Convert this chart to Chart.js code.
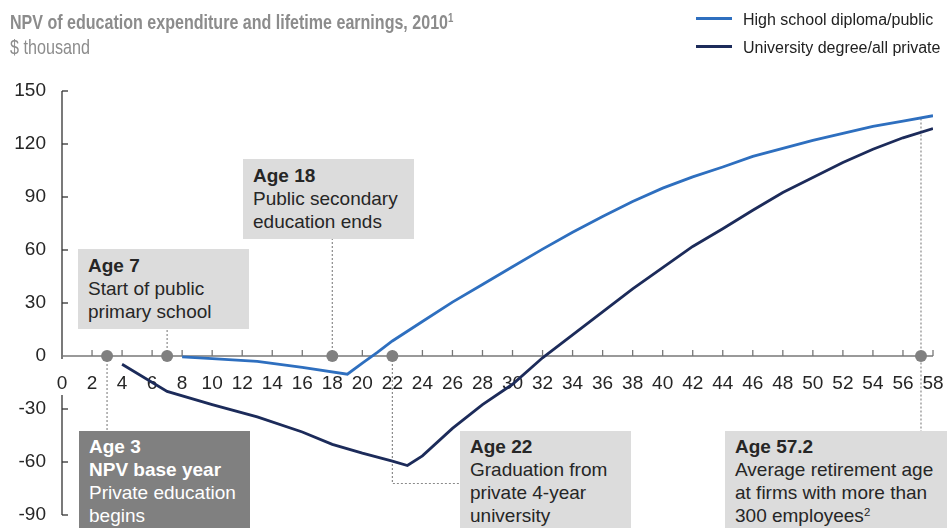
<!DOCTYPE html>
<html>
<head>
<meta charset="utf-8">
<script src="https://cdn.jsdelivr.net/npm/chart.js@4.4.0/dist/chart.umd.min.js"></script>
<style>
  html, body { margin: 0; padding: 0; background: #fff; }
  #wrap { position: relative; width: 947px; height: 528px; overflow: hidden; font-family: "Liberation Sans", Arial, sans-serif; }
  #chart { position: absolute; left: 0; top: 0; }
  .head { position: absolute; left: 10px; white-space: nowrap; transform-origin: left top; color: #8c8c8c; }
  #title { top: 11px; font-size: 20px; font-weight: bold; }
  #unit { top: 35px; font-size: 21px; }
  sup { font-size: 0.6em; line-height: 0; vertical-align: 0.55em; }
  .legend { position: absolute; left: 696px; font-size: 16px; color: #222; white-space: nowrap; }
  .legend i { display: inline-block; width: 36px; height: 0; border-top: 3px solid; vertical-align: middle; margin-right: 11px; position: relative; top: -2px; }
  .note { position: absolute; background: #dcdcdc; color: #262626; font-size: 19px; line-height: 23px; padding: 5px 10px; box-sizing: border-box; white-space: nowrap; }
  .note b { font-weight: bold; }
  .note.dark { background: #808080; color: #fff; }
</style>
</head>
<body>
<div id="wrap">
  <canvas id="chart" width="947" height="528"></canvas>
  <div id="title" class="head"><span id="titleText">NPV of education expenditure and lifetime earnings, 2010</span><sup>1</sup></div>
  <div id="unit" class="head">$ thousand</div>
  <div class="legend" style="top: 11px;"><i style="border-color:#2e6fbf"></i>High school diploma/public</div>
  <div class="legend" style="top: 39px;"><i style="border-color:#1c2b5a"></i>University degree/all private</div>

  <div class="note" style="left:78px; top:249px; width:171px; height:80px;"><b>Age 7</b><br>Start of public<br>primary school</div>
  <div class="note" style="left:243px; top:159px; width:171px; height:80px;"><b>Age 18</b><br>Public secondary<br>education ends</div>
  <div class="note dark" style="left:79px; top:431px; width:171px; height:110px; padding-top:4px;"><b>Age 3</b><br><b>NPV base year</b><br>Private education<br>begins</div>
  <div class="note" style="left:460px; top:431px; width:171px; height:110px; padding-top:4px;"><b>Age 22</b><br>Graduation from<br>private 4-year<br>university</div>
  <div class="note" style="left:725px; top:431px; width:222px; height:110px; padding-top:4px;"><b>Age 57.2</b><br>Average retirement age<br>at firms with more than<br>300 employees<sup>2</sup></div>
</div>
<script>
// data
const publicAges = [8, 10, 13, 16, 19, 20, 21, 22, 24, 26, 28, 30, 32, 34, 36, 38, 40, 42, 44, 46, 48, 50, 52, 54, 56, 58];
const publicNpv = [-0.5, -1.5, -3, -6.5, -10.3, -4, 2, 8.5, 19.5, 30.5, 40.5, 50.5, 60.5, 70, 79, 87.5, 95, 101.4, 107, 113, 117.5, 122, 126, 130, 133, 136];
const privateAges = [4, 7, 10, 13, 16, 18, 20, 22, 23, 24, 26, 28, 30, 32, 34, 36, 38, 40, 42, 44, 46, 48, 50, 52, 54, 56, 58];
const privateNpv = [-4.7, -20, -27.5, -34.5, -43, -50, -55, -59.5, -62, -56.5, -41, -27.5, -16, -1, 12, 25, 38, 50, 62, 72, 82.5, 92.5, 101, 109.5, 117, 123.5, 128.7];
const xTicks = [0, 2, 4, 6, 8, 10, 12, 14, 16, 18, 20, 22, 24, 26, 28, 30, 32, 34, 36, 38, 40, 42, 44, 46, 48, 50, 52, 54, 56, 58];
const yTicks = [-90, -60, -30, 0, 30, 60, 90, 120, 150];
const markerAges = [3, 7, 18, 22, 57.2];

// squeeze the heading to the narrow look of the original
function fitWidth(id, target) {
    const el = document.getElementById(id);
    const w = el.getBoundingClientRect().width;
    el.style.transform = 'scaleX(' + (target / w) + ')';
}
fitWidth('titleText', 438);
document.getElementById('title').style.transform = document.getElementById('titleText').style.transform;
document.getElementById('titleText').style.transform = '';
fitWidth('unit', 80);

const toPoints = (xs, ys) => xs.map((x, i) => ({ x: x, y: ys[i] }));

const axesPlugin = {
    id: 'axesPlugin',
    beforeDatasetsDraw(chart) {
        const ctx = chart.ctx;
        const xs = chart.scales.x, ys = chart.scales.y;
        const x0 = xs.getPixelForValue(0);
        const y0 = ys.getPixelForValue(0);
        ctx.save();

        // y axis (broken around the "0" label)
        ctx.strokeStyle = '#333';
        ctx.lineWidth = 1.3;
        ctx.beginPath();
        ctx.moveTo(x0, ys.getPixelForValue(150));
        ctx.lineTo(x0, y0 + 3);
        ctx.moveTo(x0, y0 + 39);
        ctx.lineTo(x0, ys.getPixelForValue(-90));
        ctx.stroke();
        yTicks.forEach(v => {
            if (v === 0) return;
            const y = ys.getPixelForValue(v);
            ctx.beginPath();
            ctx.moveTo(x0, y);
            ctx.lineTo(x0 + 6, y);
            ctx.stroke();
        });

        // x axis along zero
        ctx.strokeStyle = '#777';
        ctx.lineWidth = 1.3;
        ctx.beginPath();
        ctx.moveTo(x0, y0);
        ctx.lineTo(xs.getPixelForValue(58), y0);
        ctx.stroke();
        xTicks.forEach(v => {
            if (v === 0) return;
            const x = xs.getPixelForValue(v);
            ctx.beginPath();
            ctx.moveTo(x, y0);
            ctx.lineTo(x, y0 - 6);
            ctx.stroke();
        });

        // tick labels
        ctx.fillStyle = '#262626';
        ctx.font = '19px "Liberation Sans", Arial, sans-serif';
        ctx.textAlign = 'right';
        ctx.textBaseline = 'middle';
        yTicks.forEach(v => ctx.fillText(String(v), x0 - 16, ys.getPixelForValue(v)));
        ctx.textAlign = 'center';
        xTicks.forEach(v => ctx.fillText(String(v), xs.getPixelForValue(v), y0 + 28));

        // leader lines
        ctx.strokeStyle = '#8a8a8a';
        ctx.lineWidth = 1.2;
        ctx.setLineDash([2, 2]);
        const px = markerAges.map(a => xs.getPixelForValue(a));
        ctx.beginPath();
        ctx.moveTo(px[0], y0); ctx.lineTo(px[0], 431);
        ctx.moveTo(px[1], y0); ctx.lineTo(px[1], 329);
        ctx.moveTo(px[2], y0); ctx.lineTo(px[2], 239);
        ctx.moveTo(px[3], y0); ctx.lineTo(px[3], 483.5); ctx.lineTo(460, 483.5);
        ctx.moveTo(px[4], ys.getPixelForValue(134.5)); ctx.lineTo(px[4], 431);
        ctx.stroke();
        ctx.setLineDash([]);

        // grey markers on the axis
        ctx.fillStyle = '#808080';
        px.forEach(x => {
            ctx.beginPath();
            ctx.arc(x, y0, 6, 0, Math.PI * 2);
            ctx.fill();
        });
        ctx.restore();
    }
};

new Chart(document.getElementById('chart').getContext('2d'), {
    type: 'line',
    data: {
        datasets: [
            { label: 'High school diploma/public', data: toPoints(publicAges, publicNpv), borderColor: '#2e6fbf', borderWidth: 2.8, pointRadius: 0, tension: 0 },
            { label: 'University degree/all private', data: toPoints(privateAges, privateNpv), borderColor: '#1c2b5a', borderWidth: 2.8, pointRadius: 0, tension: 0 }
        ]
    },
    options: {
        responsive: false,
        animation: false,
        layout: { padding: { left: 62, right: 14, top: 91, bottom: 13 } },
        plugins: { legend: { display: false }, tooltip: { enabled: false } },
        scales: {
            x: { type: 'linear', min: 0, max: 58, display: false },
            y: { type: 'linear', min: -90, max: 150, display: false }
        }
    },
    plugins: [axesPlugin]
});
</script>
</body>
</html>
